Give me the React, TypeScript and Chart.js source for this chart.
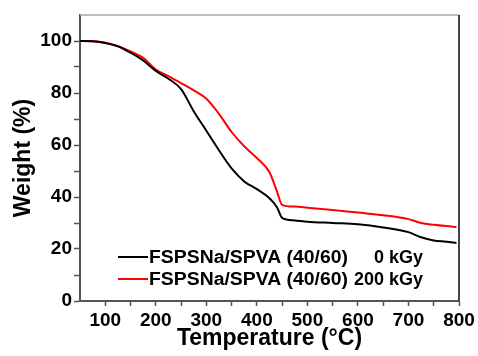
import React, { useEffect, useRef } from "react";
import { Chart, registerables } from "chart.js";

Chart.register(...registerables);

const temps = [50, 75, 100, 125, 150, 175, 200, 225, 250, 275, 300, 325, 350, 375, 400, 425, 440, 450, 475, 500, 550, 600, 650, 700, 725, 750, 775, 795];
const weight0kGy = [100, 99.9, 99.2, 98, 95.5, 92.5, 88.5, 85.5, 81.5, 73, 65.5, 58, 51, 46, 43, 39.5, 36, 32, 31, 30.5, 30, 29.5, 28.3, 26.5, 24.5, 23.3, 22.8, 22.3];
const weight200kGy = [100, 99.9, 99.3, 98, 96, 93.5, 89, 86.5, 83.8, 81, 77.8, 72, 65, 59.5, 55, 49.5, 42, 37, 36.3, 35.9, 35, 34, 33, 31.5, 30, 29.3, 28.8, 28.5];
const seriesNames = ["FSPSNa/SPVA (40/60)", "FSPSNa/SPVA (40/60)"];
const doseLabels = ["0 kGy", "200 kGy"];
const seriesColors = ["#000000", "#ff0000"];

const FONT = "'Liberation Sans', Arial, sans-serif";

export default function App() {
  const ref = useRef<HTMLCanvasElement>(null);
  useEffect(() => {
    if (!ref.current) return;
    const framePlugin = {
      id: "frame",
      afterDraw(chart: any) {
        const { ctx, chartArea: a } = chart;
        ctx.save();
        ctx.strokeStyle = "#a8a8a8";
        ctx.lineWidth = 1.5;
        ctx.beginPath();
        ctx.moveTo(a.left, a.top);
        ctx.lineTo(a.right, a.top);
        ctx.stroke();
        ctx.strokeStyle = "#444";
        ctx.lineWidth = 2;
        ctx.beginPath();
        ctx.moveTo(a.right, a.top);
        ctx.lineTo(a.right, a.bottom);
        ctx.stroke();
        ctx.restore();
      },
    };
    const legendPlugin = {
      id: "insideLegend",
      afterDraw(chart: any) {
        const { ctx, chartArea: a } = chart;
        ctx.save();
        ctx.font = `bold 18px ${FONT}`;
        ctx.textBaseline = "middle";
        for (let i = 0; i < seriesNames.length; i++) {
          const y = a.bottom - 44 + i * 22;
          ctx.strokeStyle = seriesColors[i];
          ctx.lineWidth = 2;
          ctx.beginPath();
          ctx.moveTo(a.left + 38, y);
          ctx.lineTo(a.left + 68, y);
          ctx.stroke();
          ctx.fillStyle = "#000";
          ctx.textAlign = "left";
          const w = ctx.measureText(seriesNames[i]).width;
          const sx = 199 / w;
          ctx.save();
          ctx.translate(a.left + 69, y + 1);
          ctx.scale(sx, 1);
          ctx.fillText(seriesNames[i], 0, 0);
          ctx.restore();
          ctx.textAlign = "right";
          ctx.fillText(doseLabels[i], a.left + 343, y + 1);
        }
        ctx.restore();
      },
    };
    const chart = new Chart(ref.current, {
      type: "line",
      data: {
        labels: temps,
        datasets: [
          {
            label: seriesNames[0] + " " + doseLabels[0],
            data: temps.map((t, i) => ({ x: t, y: weight0kGy[i] })),
            borderColor: seriesColors[0],
            borderWidth: 2,
            pointRadius: 0,
            cubicInterpolationMode: "monotone",
            fill: false,
          },
          {
            label: seriesNames[1] + " " + doseLabels[1],
            data: temps.map((t, i) => ({ x: t, y: weight200kGy[i] })),
            borderColor: seriesColors[1],
            borderWidth: 2,
            pointRadius: 0,
            cubicInterpolationMode: "monotone",
            fill: false,
          },
        ],
      },
      options: {
        responsive: false,
        animation: false,
        layout: { padding: { top: 15, right: 19, left: 0, bottom: 0 } },
        plugins: { legend: { display: false }, tooltip: { enabled: false } },
        scales: {
          x: {
            type: "linear",
            min: 50,
            max: 800,
            afterFit: (s: any) => {
              s.height = 55;
            },
            border: { color: "#555", width: 2 },
            grid: {
              drawOnChartArea: false,
              drawTicks: true,
              tickLength: 5,
              tickWidth: 1.5,
              tickColor: (c: any) => (c.tick && c.tick.value === 50 ? "rgba(0,0,0,0)" : "#555"),
            },
            ticks: {
              stepSize: 50,
              autoSkip: false,
              maxRotation: 0,
              padding: 3,
              color: "#000",
              font: { family: FONT, size: 19, weight: "bold" },
              callback: (v: any) => (v % 100 === 0 ? String(v) : ""),
            },
            title: {
              display: true,
              text: "Temperature (°C)",
              color: "#000",
              font: { family: FONT, size: 23, weight: "bold" },
              padding: { top: 3.5, bottom: 3.5 },
            },
          },
          y: {
            min: 0,
            max: 110,
            afterFit: (s: any) => {
              s.width = 80;
            },
            border: { color: "#555", width: 2 },
            grid: {
              drawOnChartArea: false,
              drawTicks: true,
              tickLength: 6,
              tickWidth: 1.5,
              tickColor: (c: any) => (c.tick && c.tick.value === 110 ? "rgba(0,0,0,0)" : "#555"),
            },
            ticks: {
              stepSize: 10,
              autoSkip: false,
              padding: 2,
              color: "#000",
              font: { family: FONT, size: 19, weight: "bold" },
              callback: (v: any) => (v % 20 === 0 && v <= 100 ? String(v) : ""),
            },
            title: {
              display: true,
              text: "Weight (%)",
              color: "#000",
              font: { family: FONT, size: 23, weight: "bold" },
              padding: { top: 10, bottom: 10 },
            },
          },
        },
      },
      plugins: [framePlugin, legendPlugin],
    });
    return () => chart.destroy();
  }, []);
  return (
    <div style={{ position: "absolute", left: 0, top: 0, width: 478, height: 356, background: "#fff" }}>
      <canvas ref={ref} width={478} height={356} />
    </div>
  );
}
